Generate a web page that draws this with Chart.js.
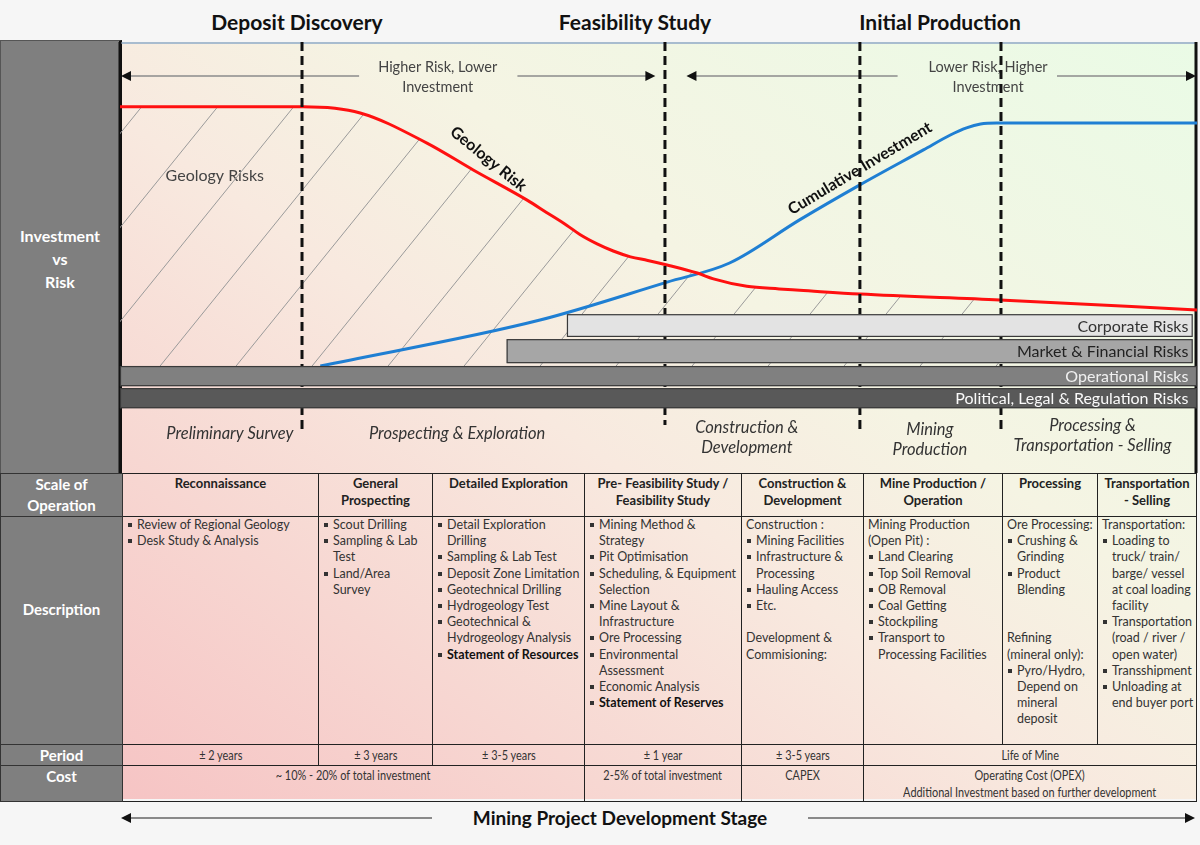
<!DOCTYPE html>
<html lang="en">
<head>
<meta charset="UTF-8">
<title>Mining Project Development Stage</title>
<script src="https://cdn.jsdelivr.net/npm/chart.js"></script>
<style>
    body { margin: 0; background: #f6f6f6; font-family: Lato, "Open Sans", sans-serif; }
    #page { position: relative; width: 1200px; height: 845px; overflow: hidden; }
    .phase { position: absolute; top: 9px; font-weight: bold; font-size: 21px; line-height: 26px; color: #111; transform: translateX(-50%); white-space: nowrap; }
    #bg { position: absolute; left: 120px; top: 42px; width: 1077px; height: 757px;
          background: linear-gradient(to top right, #f6c4c4 0%, #f8e9df 45%, #f5f4e3 62%, #eafbe6 100%); }
    #side { position: absolute; left: 0; top: 40px; width: 118px; height: 432px; background: #7f7f7f;
            border-top: 1px solid #555; border-left: 1px solid #555; border-right: 3px solid #111; }
    #side div { position: absolute; top: 183px; width: 118px; text-align: center; color: #fff; font-weight: bold; font-size: 16px; line-height: 23px; }
    #chart { position: absolute; left: 0; top: 0; }
    #tbl { position: absolute; left: 0; top: 473px; border-collapse: collapse; table-layout: fixed; width: 1196px; }
    #tbl td { border: 1px solid #222; padding: 0; vertical-align: top; color: #222; overflow: visible; white-space: nowrap; }
    #tbl td.lab { background: #7f7f7f; color: #fff; font-weight: bold; font-size: 15px; text-align: center; line-height: 21px; border-color: #333; }
    #tbl td.hd { font-weight: bold; font-size: 13px; line-height: 17px; text-align: center; padding-top: 1px; }
    #tbl td.ds { font-size: 12.5px; line-height: 16.2px; color: #333; }
    .it { position: relative; padding-left: 4px; }
    .it.b { padding-left: 14px; }
    .it.b i { position: absolute; left: 5px; top: 6px; width: 4px; height: 4px; background: #333; }
    .it.B { font-weight: bold; color: #111; }
    #tbl td.pc { font-size: 13px; line-height: 17px; text-align: center; color: #333; }
    .nar { display: inline-block; transform: scaleX(0.84); transform-origin: center; }
    #foot { position: absolute; left: 0; top: 805px; width: 1200px; height: 28px; }
    #foot span { position: absolute; left: 620px; top: 1px; transform: translateX(-50%); font-weight: bold; font-size: 19px; color: #111; white-space: nowrap; }
</style>
</head>
<body>
<div id="page">
    <div id="bg"></div>
    <div id="side"><div>Investment<br>vs<br>Risk</div></div>
    <div id="phases"></div>
    <canvas id="chart" width="1200" height="473"></canvas>
    <table id="tbl"></table>
    <div id="foot">
        <svg width="1200" height="28">
            <line x1="130" y1="13" x2="432" y2="13" stroke="#8a8a8a" stroke-width="2"/>
            <line x1="808" y1="13" x2="1186" y2="13" stroke="#8a8a8a" stroke-width="2"/>
            <polygon points="121,13 131,8 131,18" fill="#111"/>
            <polygon points="1195,13 1185,8 1185,18" fill="#111"/>
        </svg>
        <span>Mining Project Development Stage</span>
    </div>
</div>
<script>
// ---------- data ----------
const phaseNames = ['Deposit Discovery', 'Feasibility Study', 'Initial Production'];

// timeline 0..100 across the chart, level 0 = top of the operational risk band
const riskX = [0, 17, 22.3, 28.5, 32.8, 37.8, 39.6, 41.5, 42.7, 44.3, 45.8, 47.4, 49.0, 50.8, 53.6, 55.1, 58.2, 61.2, 63.1, 68.7, 81.7, 100];
const riskY = [80, 80, 78.1, 68.8, 60.5, 51.2, 47.4, 43.4, 40.6, 37.7, 35.5, 33.7, 32.6, 31.2, 28.7, 26.9, 24.6, 23.8, 23.4, 22.2, 20.4, 17.3];
const investX = [18.6, 39.0, 50.8, 56.6, 63.1, 68.7, 74.6, 77.1, 78.6, 79.9, 81.4, 100];
const investY = [0, 14.2, 25.9, 31.8, 45.1, 55.9, 66.7, 71.3, 73.5, 74.7, 75.0, 75.0];

const stageBounds = [16.9, 50.6, 68.7, 81.8];
const stageBoundEnd = [-20.7, -18.2, -19.9, -19.9];
const stageNames = ['Preliminary Survey', 'Prospecting & Exploration', 'Construction &\nDevelopment', 'Mining\nProduction', 'Processing &\nTransportation - Selling'];

const riskNames = ['Corporate Risks', 'Market & Financial Risks', 'Operational Risks', 'Political, Legal & Regulation Risks'];
const riskFrom = [41.5, 35.9, 0, 0];
const riskTo = [99.6, 99.6, 100, 100];
const riskTop = [16.0, 8.3, 0, -6.8];
const riskBottom = [9.0, 0.9, -6.2, -13.0];

const arrowNotes = ['Higher Risk, Lower\nInvestment', 'Lower Risk, Higher\nInvestment'];
const arrowFrom = [0, 52.5];
const arrowTo = [49.8, 100];
const arrowLevel = 89.5;

const scaleOfOperation = ['Reconnaissance', 'General\nProspecting', 'Detailed Exploration', 'Pre- Feasibility Study /\nFeasibility Study',
    'Construction &\nDevelopment', 'Mine Production /\nOperation', 'Processing', 'Transportation\n- Selling'];
// b = bullet, B = bold bullet, p = plain line, '' = empty line
const descriptions = [
    [['b', 'Review of Regional Geology'], ['b', 'Desk Study & Analysis']],
    [['b', 'Scout Drilling'], ['b', 'Sampling & Lab\nTest'], ['b', 'Land/Area\nSurvey']],
    [['b', 'Detail Exploration\nDrilling'], ['b', 'Sampling & Lab Test'], ['b', 'Deposit Zone Limitation'], ['b', 'Geotechnical Drilling'],
     ['b', 'Hydrogeology Test'], ['b', 'Geotechnical &\nHydrogeology Analysis'], ['B', 'Statement of Resources']],
    [['b', 'Mining Method &\nStrategy'], ['b', 'Pit Optimisation'], ['b', 'Scheduling, & Equipment\nSelection'], ['b', 'Mine Layout &\nInfrastructure'],
     ['b', 'Ore Processing'], ['b', 'Environmental\nAssessment'], ['b', 'Economic Analysis'], ['B', 'Statement of Reserves']],
    [['p', 'Construction :'], ['b', 'Mining Facilities'], ['b', 'Infrastructure &\nProcessing'], ['b', 'Hauling Access'], ['b', 'Etc.'],
     ['', ''], ['p', 'Development &\nCommisioning:']],
    [['p', 'Mining Production\n(Open Pit) :'], ['b', 'Land Clearing'], ['b', 'Top Soil Removal'], ['b', 'OB Removal'], ['b', 'Coal Getting'],
     ['b', 'Stockpiling'], ['b', 'Transport to\nProcessing Facilities']],
    [['p', 'Ore Processing:'], ['b', 'Crushing &\nGrinding'], ['b', 'Product\nBlending'], ['', ''], ['', ''], ['p', 'Refining\n(mineral only):'],
     ['b', 'Pyro/Hydro,\nDepend on\nmineral\ndeposit']],
    [['p', 'Transportation:'], ['b', 'Loading to\ntruck/ train/\nbarge/ vessel\nat coal loading\nfacility'], ['b', 'Transportation\n(road / river /\nopen water)'],
     ['b', 'Transshipment'], ['b', 'Unloading at\nend buyer port']]
];
const periods = ['± 2 years', '± 3 years', '± 3-5 years', '± 1 year', '± 3-5 years', 'Life of Mine'];
const periodSpan = [1, 1, 1, 1, 1, 3];
const costs = ['~ 10% - 20% of total investment', '2-5% of total investment', 'CAPEX', 'Operating Cost (OPEX)\nAdditional Investment based on further development'];
const costSpan = [3, 1, 1, 3];

// ---------- layout ----------
const phaseCenters = [297, 635, 940];
const colWidths = [122, 196, 114, 152, 157, 122, 139, 95, 99];
const stageLabelAt = [[10.2, -21], [31.3, -21], [58.2, -22], [75.2, -22.6], [90.3, -21.6]];
const arrowGap = [[22.2, 36.9], [72.2, 87.0]];
const noteAt = [29.5, 80.6];
const curveLabels = [
    { text: 'Geology Risk', x: 34.2, y: 63.9, angle: 39 },
    { text: 'Cumulative Investment', x: 68.7, y: 61.0, angle: -31 }
];
const riskFill = ['#e3e3e3', '#a6a6a6', '#808080', '#595959'];
const riskInk = ['#333', '#222', '#f0f0f0', '#fafafa'];

// phase headings
document.getElementById('phases').innerHTML = phaseNames.map((p, i) =>
    `<div class="phase" style="left:${phaseCenters[i]}px">${p}</div>`).join('');

// table
function lines(s) { return s.split('\n').join('<br>'); }
function descCell(items) {
    return items.map(([k, t]) => {
        if (!k) return '<div class="it">&nbsp;</div>';
        if (k === 'p') return `<div class="it">${lines(t)}</div>`;
        return `<div class="it b${k === 'B' ? ' B' : ''}"><i></i>${lines(t)}</div>`;
    }).join('');
}
let html = '<colgroup>' + colWidths.map(w => `<col style="width:${w}px">`).join('') + '</colgroup>';
html += '<tr style="height:42px"><td class="lab">Scale of<br>Operation</td>' +
    scaleOfOperation.map(s => `<td class="hd">${lines(s)}</td>`).join('') + '</tr>';
html += '<tr style="height:228px"><td class="lab" style="padding-top:82px">Description</td>' +
    descriptions.map(d => `<td class="ds">${descCell(d)}</td>`).join('') + '</tr>';
html += '<tr style="height:21px"><td class="lab" style="vertical-align:middle;line-height:18px">Period</td>' +
    periods.map((p, i) => `<td class="pc" colspan="${periodSpan[i]}" style="vertical-align:middle"><span class="nar">${p}</span></td>`).join('') + '</tr>';
html += '<tr style="height:35px"><td class="lab" style="line-height:20px">Cost</td>' +
    costs.map((c, i) => `<td class="pc" colspan="${costSpan[i]}" style="padding-top:1px">` +
        c.split('\n').map(l => `<span class="nar">${l}</span>`).join('<br>') + '</td>').join('') + '</tr>';
document.getElementById('tbl').innerHTML = html;

// ---------- chart ----------
const canvas = document.getElementById('chart');

function hatchPattern() {
    const w = 76, h = 94;
    const c = document.createElement('canvas');
    c.width = w; c.height = h;
    const g = c.getContext('2d');
    g.strokeStyle = '#9a9a9a';
    g.lineWidth = 1;
    for (const dx of [-w, 0, w]) {
        g.beginPath();
        g.moveTo(dx, h);
        g.lineTo(dx + w, 0);
        g.stroke();
    }
    return canvas.getContext('2d').createPattern(c, 'repeat');
}

const riskPoints = riskX.map((x, i) => ({ x, y: riskY[i] }));
const investPoints = investX.map((x, i) => ({ x, y: investY[i] }));
const hatchPoints = riskPoints.filter(p => p.x <= stageBounds[3]);

const overlay = {
    id: 'overlay',
    beforeDatasetsDraw(chart) {
        const { ctx, chartArea: a, scales: { x, y } } = chart;
        ctx.save();
        // frame
        ctx.strokeStyle = '#a8bccf';
        ctx.lineWidth = 2;
        ctx.beginPath(); ctx.moveTo(a.left, a.top + 1); ctx.lineTo(a.right, a.top + 1); ctx.stroke();
        ctx.strokeStyle = '#111';
        ctx.lineWidth = 3;
        ctx.beginPath(); ctx.moveTo(a.left, a.top); ctx.lineTo(a.left, a.bottom); ctx.stroke();
        ctx.beginPath(); ctx.moveTo(a.right - 1, a.top); ctx.lineTo(a.right - 1, a.bottom); ctx.stroke();

        // risk / investment arrows
        const py = y.getPixelForValue(arrowLevel);
        arrowNotes.forEach((note, i) => {
            const x1 = x.getPixelForValue(arrowFrom[i]), x2 = x.getPixelForValue(arrowTo[i]);
            const g1 = x.getPixelForValue(arrowGap[i][0]), g2 = x.getPixelForValue(arrowGap[i][1]);
            ctx.strokeStyle = '#8c8c8c';
            ctx.lineWidth = 1.5;
            ctx.beginPath();
            ctx.moveTo(x1 + 8, py); ctx.lineTo(g1, py);
            ctx.moveTo(g2, py); ctx.lineTo(x2 - 8, py);
            ctx.stroke();
            ctx.fillStyle = '#111';
            ctx.beginPath(); ctx.moveTo(x1 + 1, py); ctx.lineTo(x1 + 11, py - 5); ctx.lineTo(x1 + 11, py + 5); ctx.fill();
            ctx.beginPath(); ctx.moveTo(x2 - 1, py); ctx.lineTo(x2 - 11, py - 5); ctx.lineTo(x2 - 11, py + 5); ctx.fill();
            ctx.fillStyle = '#444';
            ctx.font = '14.5px Lato';
            ctx.textAlign = 'center';
            ctx.textBaseline = 'middle';
            const cx = x.getPixelForValue(noteAt[i]);
            note.split('\n').forEach((l, k) => ctx.fillText(l, cx, py - 9 + k * 20));
        });

        ctx.fillStyle = '#444';
        ctx.font = '16px Lato';
        ctx.textAlign = 'center';
        ctx.textBaseline = 'middle';
        ctx.fillText('Geology Risks', x.getPixelForValue(8.8), y.getPixelForValue(58.7));
        ctx.restore();
    },
    afterDatasetsDraw(chart) {
        const { ctx, scales: { x, y } } = chart;
        ctx.save();
        // stage boundaries
        ctx.strokeStyle = '#111';
        ctx.lineWidth = 3;
        ctx.setLineDash([9, 5]);
        stageBounds.forEach((b, i) => {
            const px = x.getPixelForValue(b);
            ctx.beginPath();
            ctx.moveTo(px, y.getPixelForValue(100));
            ctx.lineTo(px, y.getPixelForValue(stageBoundEnd[i]));
            ctx.stroke();
        });
        ctx.setLineDash([]);

        // risk bands
        riskNames.forEach((name, i) => {
            const x1 = x.getPixelForValue(riskFrom[i]), x2 = x.getPixelForValue(riskTo[i]);
            const y1 = y.getPixelForValue(riskTop[i]), y2 = y.getPixelForValue(riskBottom[i]);
            ctx.fillStyle = riskFill[i];
            ctx.fillRect(x1, y1, x2 - x1, y2 - y1);
            ctx.strokeStyle = '#3a3a3a';
            ctx.lineWidth = 1.2;
            ctx.strokeRect(x1 + 0.5, y1 + 0.5, x2 - x1 - 1, y2 - y1 - 1);
            ctx.fillStyle = riskInk[i];
            ctx.font = '16px Lato';
            ctx.textAlign = 'right';
            ctx.textBaseline = 'middle';
            ctx.fillText(name, x.getPixelForValue(99.2), (y1 + y2) / 2 + 1);
        });

        // stage names
        ctx.fillStyle = '#333';
        ctx.font = 'italic 16.5px Lato';
        ctx.textAlign = 'center';
        stageNames.forEach((s, i) => {
            const ls = s.split('\n');
            const cx = x.getPixelForValue(stageLabelAt[i][0]);
            const cy = y.getPixelForValue(stageLabelAt[i][1]);
            ls.forEach((l, k) => ctx.fillText(l, cx, cy + (k - (ls.length - 1) / 2) * 20));
        });

        // curve labels
        ctx.fillStyle = '#111';
        ctx.font = 'bold 16px Lato';
        curveLabels.forEach(c => {
            ctx.save();
            ctx.translate(x.getPixelForValue(c.x), y.getPixelForValue(c.y));
            ctx.rotate(c.angle * Math.PI / 180);
            ctx.fillText(c.text, 0, 0);
            ctx.restore();
        });
        ctx.restore();
    }
};

new Chart(canvas, {
    type: 'line',
    data: {
        datasets: [
            { label: 'Geology Risk', data: riskPoints, borderColor: '#ff1010', borderWidth: 3,
              pointRadius: 0, cubicInterpolationMode: 'monotone', fill: false },
            { label: 'Cumulative Investment', data: investPoints, borderColor: '#1f7fd3', borderWidth: 3,
              pointRadius: 0, cubicInterpolationMode: 'monotone', fill: false },
            { label: 'Geology Risks', data: hatchPoints, borderWidth: 0, borderColor: 'rgba(0,0,0,0)',
              pointRadius: 0, cubicInterpolationMode: 'monotone', fill: { value: 0 }, backgroundColor: hatchPattern() }
        ]
    },
    options: {
        responsive: false,
        animation: false,
        layout: { padding: { left: 120, right: 3, top: 42, bottom: 0 } },
        scales: {
            x: { type: 'linear', min: 0, max: 100, display: false },
            y: { type: 'linear', min: -33, max: 100, display: false }
        },
        plugins: { legend: { display: false }, tooltip: { enabled: false } }
    },
    plugins: [overlay]
});
</script>
</body>
</html>
